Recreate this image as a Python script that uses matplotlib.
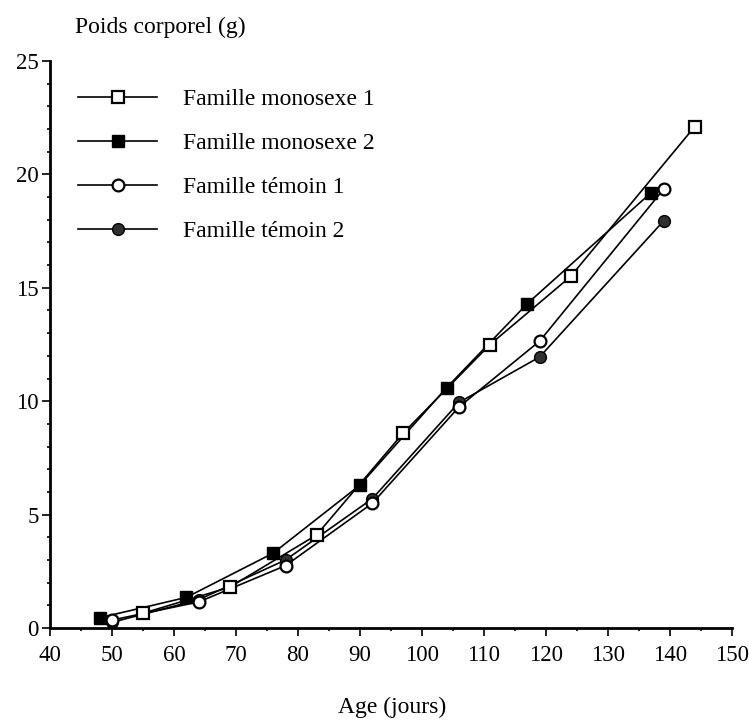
import matplotlib.pyplot as plt
from matplotlib.ticker import MultipleLocator

plt.rcParams['font.family'] = ['Liberation Serif', 'DejaVu Serif']

# Données (âge en jours, poids en g)
age_mono1 = [55, 69, 83, 97, 111, 124, 144]
poids_mono1 = [0.65, 1.8, 4.1, 8.6, 12.5, 15.5, 22.1]

age_mono2 = [48, 62, 76, 90, 104, 117, 137]
poids_mono2 = [0.45, 1.35, 3.3, 6.3, 10.6, 14.3, 19.2]

age_tem1 = [50, 64, 78, 92, 106, 119, 139]
poids_tem1 = [0.35, 1.15, 2.75, 5.5, 9.75, 12.65, 19.35]

age_tem2 = [50, 64, 78, 92, 106, 119, 139]
poids_tem2 = [0.25, 1.25, 3.0, 5.7, 9.95, 11.95, 17.95]

labels = ['Famille monosexe 1', 'Famille monosexe 2',
          'Famille témoin 1', 'Famille témoin 2']

fig = plt.figure(figsize=(7.49, 7.23), dpi=100)
ax = fig.add_axes([0.0668, 0.1314, 0.9102, 0.7842])

lw = 1.2
ms = 8.5
ax.plot(age_mono2, poids_mono2, '-s', color='black', lw=lw, ms=ms,
        mfc='black', mec='black', label=labels[1], zorder=3)
ax.plot(age_tem2, poids_tem2, '-o', color='black', lw=lw, ms=ms,
        mfc='#303030', mec='black', label=labels[3], zorder=3)
ax.plot(age_tem1, poids_tem1, '-o', color='black', lw=lw, ms=ms,
        mfc='white', mec='black', mew=1.6, label=labels[2], zorder=4)
ax.plot(age_mono1, poids_mono1, '-s', color='black', lw=lw, ms=ms,
        mfc='white', mec='black', mew=1.6, label=labels[0], zorder=5)

ax.set_xlim(40, 150)
ax.set_ylim(0, 25)
ax.xaxis.set_major_locator(MultipleLocator(10))
ax.xaxis.set_minor_locator(MultipleLocator(5))
ax.yaxis.set_major_locator(MultipleLocator(5))
ax.yaxis.set_minor_locator(MultipleLocator(1))

for s in ['top', 'right']:
    ax.spines[s].set_visible(False)
for s in ['left', 'bottom']:
    ax.spines[s].set_linewidth(2)

ax.tick_params(which='major', direction='out', length=6, width=1.2,
               labelsize=16.5)
ax.tick_params(axis='x', which='major', pad=6)
ax.tick_params(axis='y', which='major', pad=2)
ax.tick_params(which='minor', direction='out', length=2, width=1.2)

fig.text(0.1, 0.962, 'Poids corporel (g)', fontsize=17, ha='left', va='center')
fig.text(0.523, 0.022, 'Age (jours)', fontsize=17, ha='center', va='center')

handles, labs = ax.get_legend_handles_labels()
order = [labs.index(l) for l in labels]
ax.legend([handles[i] for i in order], [labs[i] for i in order],
          loc='upper left', bbox_to_anchor=(0.076, 0.9065),
          bbox_transform=fig.transFigure, frameon=False, fontsize=17,
          handlelength=3.35, handletextpad=1.1, labelspacing=0.95)

fig.savefig('out.png', dpi=100)
